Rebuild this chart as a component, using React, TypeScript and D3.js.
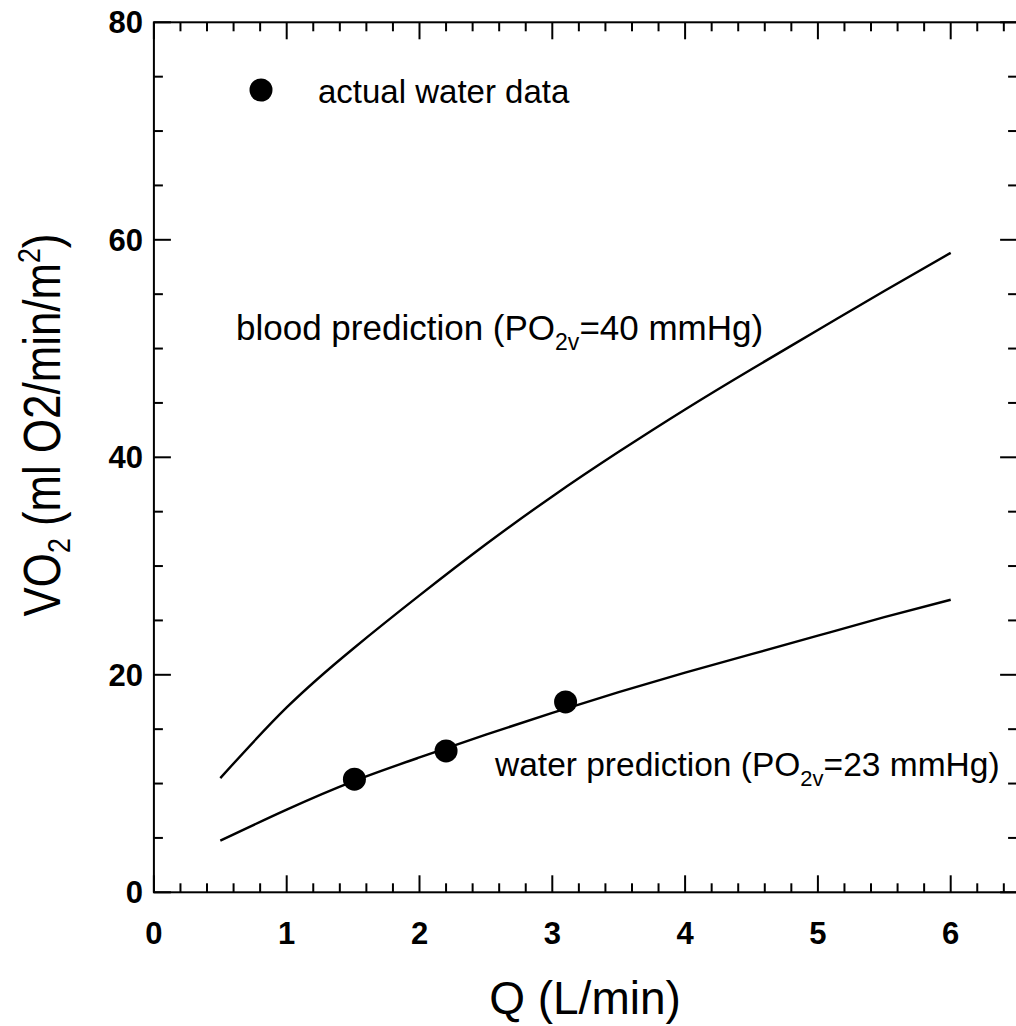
import React from "react";
import * as d3 from "d3";

const flowQ = [0.5, 1.0, 1.5, 2.0, 2.5, 3.0, 3.5, 4.0, 4.5, 5.0, 5.5, 6.0];
const bloodPrediction = [10.5, 17.0, 22.4, 27.3, 32.0, 36.4, 40.5, 44.4, 48.1, 51.7, 55.3, 58.8];
const waterPrediction = [4.75, 7.6, 10.2, 12.4, 14.5, 16.5, 18.4, 20.2, 21.9, 23.6, 25.3, 26.9];

const actualQ = [1.51, 2.2, 3.1];
const actualVO2 = [10.4, 13.0, 17.5];

const xTickLabels = [0, 1, 2, 3, 4, 5, 6];
const yTickLabels = [0, 20, 40, 60, 80];

const W = 1016;
const H = 1026;
const FONT = "'Liberation Sans', Arial, Helvetica, sans-serif";

export default function App() {
  const x = d3.scaleLinear().domain([0, 6.5]).range([153.9, 1017.1]);
  const y = d3.scaleLinear().domain([0, 80]).range([892.3, 22.3]);

  const line = d3
    .line<number>()
    .x((_, i) => x(flowQ[i]))
    .y((d) => y(d))
    .curve(d3.curveNatural);

  const xMinor = d3.range(0, 6.5001, 0.2).filter((v) => Math.abs(v - Math.round(v)) > 1e-6);
  const yMinor = d3.range(0, 80.001, 5).filter((v) => v % 20 !== 0);

  const x0 = x.range()[0];
  const x1 = x.range()[1];
  const y0 = y.range()[0];
  const y1 = y.range()[1];
  const MAJ = 17;
  const MIN = 9;
  const sw = 2;

  return (
    <svg
      width={W}
      height={H}
      viewBox={`0 0 ${W} ${H}`}
      style={{ position: "absolute", left: 0, top: 0, background: "#fff" }}
    >
      <rect x={0} y={0} width={W} height={H} fill="#fff" />
      {/* frame */}
      <rect x={x0} y={y1} width={x1 - x0} height={y0 - y1} fill="none" stroke="#000" strokeWidth={sw} />

      {/* x ticks bottom & top */}
      {xTickLabels.map((v) => (
        <g key={"xm" + v}>
          <line x1={x(v)} x2={x(v)} y1={y0} y2={y0 - MAJ} stroke="#000" strokeWidth={sw} />
          <line x1={x(v)} x2={x(v)} y1={y1} y2={y1 + MAJ} stroke="#000" strokeWidth={sw} />
          <text
            x={x(v)}
            y={944}
            textAnchor="middle"
            fontFamily={FONT}
            fontWeight="bold"
            fontSize={31}
            fill="#000"
          >
            {v}
          </text>
        </g>
      ))}
      {xMinor.map((v, i) => (
        <g key={"xn" + i}>
          <line x1={x(v)} x2={x(v)} y1={y0} y2={y0 - MIN} stroke="#000" strokeWidth={sw} />
          <line x1={x(v)} x2={x(v)} y1={y1} y2={y1 + MIN} stroke="#000" strokeWidth={sw} />
        </g>
      ))}

      {/* y ticks left & right */}
      {yTickLabels.map((v) => (
        <g key={"ym" + v}>
          <line x1={x0} x2={x0 + MAJ} y1={y(v)} y2={y(v)} stroke="#000" strokeWidth={sw} />
          <line x1={x1} x2={x1 - MAJ} y1={y(v)} y2={y(v)} stroke="#000" strokeWidth={sw} />
          <text
            x={143}
            y={y(v) + 11}
            textAnchor="end"
            fontFamily={FONT}
            fontWeight="bold"
            fontSize={31}
            fill="#000"
          >
            {v}
          </text>
        </g>
      ))}
      {yMinor.map((v) => (
        <g key={"yn" + v}>
          <line x1={x0} x2={x0 + MIN} y1={y(v)} y2={y(v)} stroke="#000" strokeWidth={sw} />
          <line x1={x1} x2={x1 - MIN} y1={y(v)} y2={y(v)} stroke="#000" strokeWidth={sw} />
        </g>
      ))}

      {/* curves */}
      <path d={line(bloodPrediction) || ""} fill="none" stroke="#000" strokeWidth={2.4} />
      <path d={line(waterPrediction) || ""} fill="none" stroke="#000" strokeWidth={2.4} />

      {/* data points */}
      {actualQ.map((q, i) => (
        <circle key={"p" + i} cx={x(q)} cy={y(actualVO2[i])} r={11.5} fill="#000" />
      ))}

      {/* legend */}
      <circle cx={261} cy={90} r={11.5} fill="#000" />
      <text x={318} y={103} fontFamily={FONT} fontSize={33} fill="#000">
        actual water data
      </text>

      {/* annotations */}
      <text x={236} y={340} fontFamily={FONT} fontSize={35} fill="#000">
        blood prediction (PO
        <tspan fontSize={23} dy={10}>2v</tspan>
        <tspan dy={-10}>=40 mmHg)</tspan>
      </text>
      <text x={495} y={776} fontFamily={FONT} fontSize={33.5} fill="#000">
        water prediction (PO
        <tspan fontSize={22} dy={10}>2v</tspan>
        <tspan dy={-10}>=23 mmHg)</tspan>
      </text>

      {/* axis titles */}
      <text x={585} y={1014} textAnchor="middle" fontFamily={FONT} fontSize={46} fill="#000">
        Q (L/min)
      </text>
      <text
        transform={`translate(60, 425) rotate(-90) scale(0.86, 1)`}
        textAnchor="middle"
        fontFamily={FONT}
        fontSize={51}
        fill="#000"
      >
        VO
        <tspan fontSize={31} dy={10}>2</tspan>
        <tspan dy={-10}> (ml O2/min/m</tspan>
        <tspan fontSize={31} dy={-20}>2</tspan>
        <tspan dy={20}>)</tspan>
      </text>
    </svg>
  );
}
